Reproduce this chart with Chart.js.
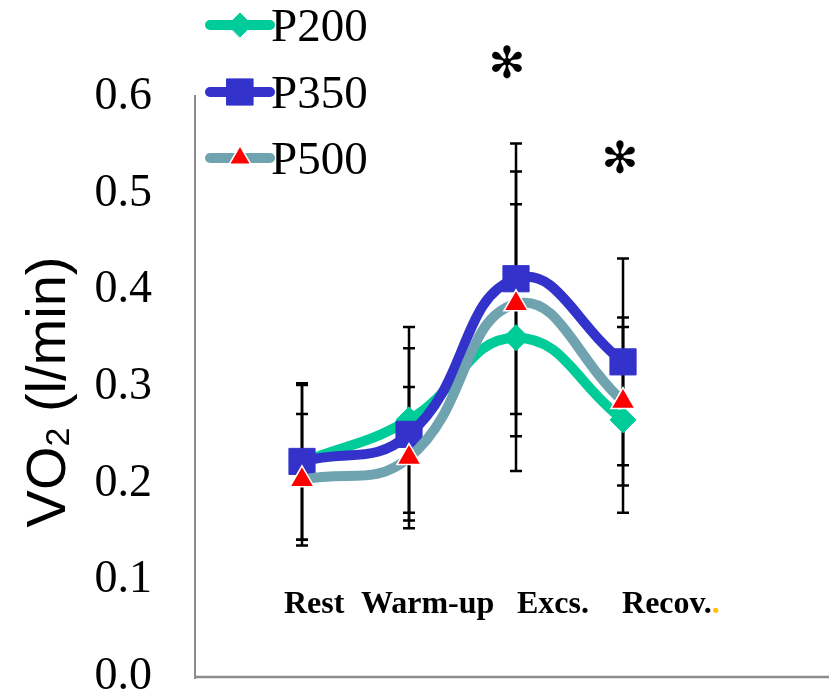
<!DOCTYPE html>
<html><head><meta charset="utf-8">
<script src="https://cdn.jsdelivr.net/npm/chart.js@4/dist/chart.umd.min.js"></script>
<style>html,body{margin:0;padding:0;background:#fff;}#wrap{width:829px;height:697px;}</style>
</head><body><div id="wrap"><canvas id="c" width="829" height="697"></canvas></div>
<script>
// ---- data ----
const categories = ['Rest', 'Warm-up', 'Excs.', 'Recov.'];
const seriesNames = ['P200', 'P350', 'P500'];
const p200 = [0.222, 0.266, 0.351, 0.266];
const p350 = [0.223, 0.251, 0.412, 0.326];
const p500 = [0.204, 0.227, 0.386, 0.285];
const p200Sd = [0.080, 0.096, 0.138, 0.096];
const p350Sd = [0.081, 0.089, 0.140, 0.107];
const p500Sd = [0.068, 0.073, 0.137, 0.087];
const yTicks = [0.0, 0.1, 0.2, 0.3, 0.4, 0.5, 0.6];
const starCategory = [2, 3];
const starValue = [0.632, 0.533];

const seriesValues = [p200, p350, p500];
const seriesSd = [p200Sd, p350Sd, p500Sd];

const styles = [
  {line: '#00CC99', fill: '#00CC99', border: '#00CC99', point: 'rectRot', r: 13, lr: 12, bw: 1},
  {line: '#3333CC', fill: '#3333CC', border: '#3333CC', point: 'rect', r: 18.5, lr: 18.5, bw: 1},
  {line: '#6FA3B0', fill: '#FF0000', border: '#FFFFFF', point: 'triangle', r: 14, lr: 12.5, bw: 1.5}
];

function marker(ctx, type, x, y, r, fill, stroke, bw) {
  ctx.save();
  ctx.beginPath();
  if (type === 'rect') {
    const s = r * Math.SQRT1_2;
    ctx.rect(x - s, y - s, 2 * s, 2 * s);
  } else if (type === 'rectRot') {
    ctx.moveTo(x - r, y); ctx.lineTo(x, y - r); ctx.lineTo(x + r, y); ctx.lineTo(x, y + r); ctx.closePath();
  } else {
    let a = 0;
    for (let k = 0; k < 3; k++) {
      const px = x + Math.sin(a) * r, py = y - Math.cos(a) * r;
      if (k === 0) ctx.moveTo(px, py); else ctx.lineTo(px, py);
      a += 2 * Math.PI / 3;
    }
    ctx.closePath();
  }
  ctx.fillStyle = fill; ctx.fill();
  if (bw) { ctx.lineWidth = bw; ctx.strokeStyle = stroke; ctx.stroke(); }
  ctx.restore();
}

const overlay = {
  id: 'overlay',
  beforeDatasetsDraw(chart, args, o) {
    const {ctx, chartArea: ca, scales: {x, y}} = chart;
    ctx.save();
    // axis lines
    ctx.strokeStyle = '#8C8C8C';
    ctx.lineWidth = 2;
    ctx.beginPath();
    ctx.moveTo(ca.left, ca.top - 2); ctx.lineTo(ca.left, ca.bottom + 2);
    ctx.stroke();
    ctx.lineWidth = 2.5;
    ctx.beginPath();
    ctx.moveTo(ca.left, ca.bottom); ctx.lineTo(ca.right, ca.bottom);
    ctx.stroke();
    // error bars
    ctx.strokeStyle = '#000';
    ctx.lineWidth = 2.5;
    seriesValues.forEach((vals, i) => {
      vals.forEach((v, j) => {
        const px = x.getPixelForValue(j);
        const t = y.getPixelForValue(v + seriesSd[i][j]);
        const b = y.getPixelForValue(v - seriesSd[i][j]);
        ctx.beginPath();
        ctx.moveTo(px, t); ctx.lineTo(px, b);
        ctx.moveTo(px - o.cap, t); ctx.lineTo(px + o.cap, t);
        ctx.moveTo(px - o.cap, b); ctx.lineTo(px + o.cap, b);
        ctx.stroke();
      });
    });
    ctx.restore();
  },
  afterDraw(chart, args, o) {
    const {ctx, chartArea: ca, scales: {x, y}} = chart;
    ctx.save();
    // category labels
    ctx.fillStyle = '#000';
    ctx.font = 'bold 32px "Liberation Serif"';
    ctx.textAlign = 'left';
    ctx.textBaseline = 'alphabetic';
    const ly = y.getPixelForValue(o.labelValue);
    categories.forEach((c, j) => {
      const lx = x.getPixelForValue(j) + o.labelOffsets[j];
      ctx.fillStyle = '#000';
      ctx.fillText(c, lx, ly);
      if (j === categories.length - 1) {
        ctx.fillStyle = '#FFC000';
        ctx.fillText('.', lx + ctx.measureText(c).width, ly);
      }
    });
    // stars
    ctx.fillStyle = '#000';
    ctx.font = '44px "DejaVu Sans"';
    ctx.textAlign = 'center';
    ctx.textBaseline = 'middle';
    starCategory.forEach((c, k) => {
      ctx.fillText('\u273B', x.getPixelForValue(c) + o.starDx[k], y.getPixelForValue(starValue[k]));
    });
    // legend
    seriesNames.forEach((n, i) => {
      const st = styles[i];
      const ly2 = o.legendY[i];
      ctx.strokeStyle = st.line;
      ctx.lineWidth = 10;
      ctx.lineCap = 'round';
      ctx.beginPath();
      ctx.moveTo(o.legendX0, ly2); ctx.lineTo(o.legendX1, ly2);
      ctx.stroke();
      marker(ctx, st.point, (o.legendX0 + o.legendX1) / 2, ly2, st.lr, st.fill, st.border, st.bw);
      ctx.fillStyle = '#000';
      ctx.font = '47px "Liberation Serif"';
      ctx.textAlign = 'left';
      ctx.textBaseline = 'alphabetic';
      ctx.fillText(n, o.legendX1 + 1, ly2 + 16);
    });
    // y title with subscript
    ctx.translate(o.titleX, o.titleY);
    ctx.rotate(-Math.PI / 2);
    ctx.fillStyle = '#000';
    ctx.textAlign = 'left';
    ctx.textBaseline = 'alphabetic';
    const big = '56px "Liberation Sans"', small = '34px "Liberation Sans"';
    ctx.font = big; const w1 = ctx.measureText('VO').width;
    ctx.font = small; const w2 = ctx.measureText('2').width;
    ctx.font = big; const w3 = ctx.measureText(' (l/min)').width;
    let sx = -(w1 + w2 + w3) / 2;
    ctx.font = big; ctx.fillText('VO', sx, 0); sx += w1;
    ctx.font = small; ctx.fillText('2', sx, 4); sx += w2;
    ctx.font = big; ctx.fillText(' (l/min)', sx, 0);
    ctx.restore();
  }
};

const datasets = seriesNames.map((n, i) => ({
  label: n,
  data: seriesValues[i].map((v, j) => ({x: j, y: v})),
  borderColor: styles[i].line,
  borderWidth: 10,
  backgroundColor: styles[i].fill,
  pointStyle: styles[i].point,
  pointRadius: styles[i].r,
  pointHoverRadius: styles[i].r,
  pointBackgroundColor: styles[i].fill,
  pointBorderColor: styles[i].border,
  pointBorderWidth: styles[i].bw,
  tension: 0.45,
  fill: false,
  order: 3 - i,
  clip: false
}));

new Chart(document.getElementById('c'), {
  type: 'line',
  data: {datasets},
  options: {
    responsive: false,
    devicePixelRatio: 1,
    animation: false,
    events: [],
    layout: {autoPadding: false, padding: {top: 97, bottom: 20, left: 0, right: 0}},
    plugins: {
      legend: {display: false},
      tooltip: {enabled: false},
      overlay: {
        cap: 6,
        labelValue: 0.066,
        labelOffsets: [-18, -48, 1, -1],
        starDx: [-9, -3],
        legendY: [25, 92, 158],
        legendX0: 210,
        legendX1: 270,
        titleX: 65,
        titleY: 392
      }
    },
    scales: {
      x: {type: 'linear', min: -1, max: 4.925, display: false},
      y: {
        type: 'linear', min: 0, max: 0.6,
        grid: {display: false, drawTicks: false},
        border: {display: false},
        afterBuildTicks: s => { s.ticks = yTicks.map(v => ({value: v})); },
        afterFit: s => { s.width = 195; s.paddingTop = 0; s.paddingBottom = 0; },
        ticks: {
          callback: v => Number(v).toFixed(1),
          font: {family: '"Liberation Serif"', size: 46},
          color: '#000',
          padding: 43
        }
      }
    }
  },
  plugins: [overlay]
});
</script></body></html>
